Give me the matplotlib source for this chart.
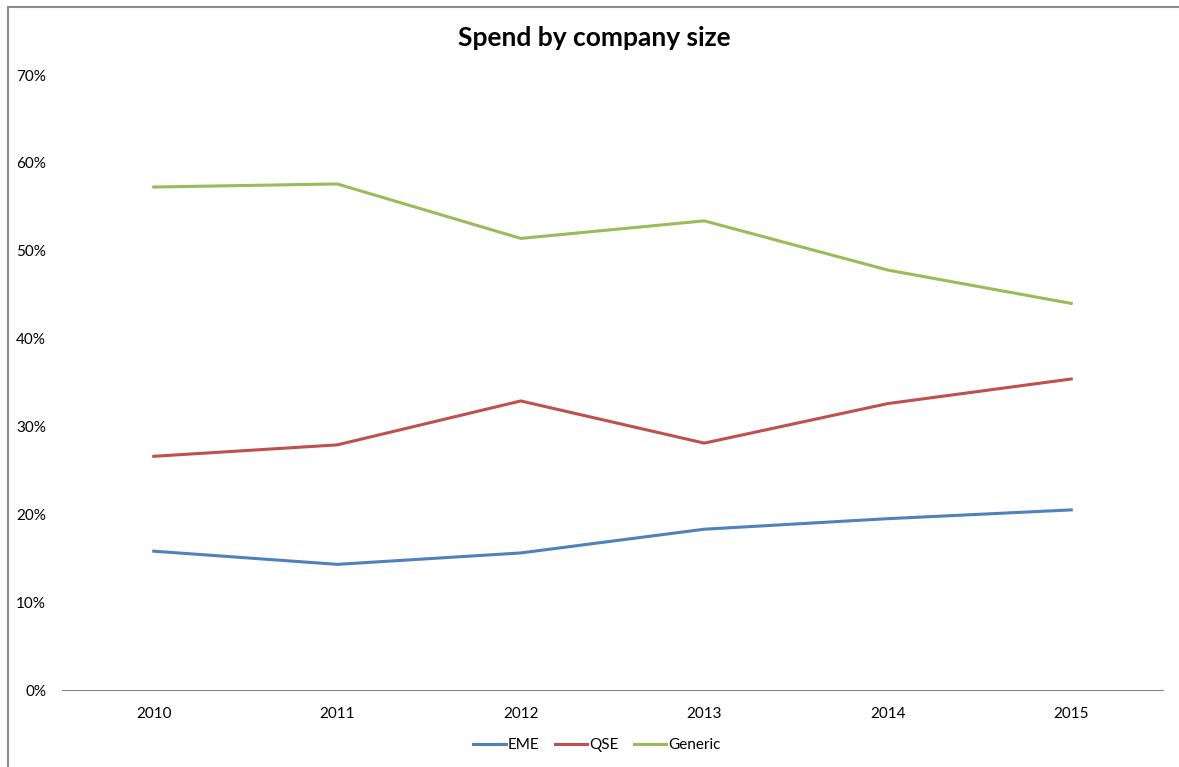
import matplotlib
matplotlib.use("Agg")
import matplotlib.pyplot as plt
from matplotlib.patches import Rectangle
from matplotlib.ticker import PercentFormatter

years = ["2010", "2011", "2012", "2013", "2014", "2015"]
eme = [15.8, 14.3, 15.6, 18.3, 19.5, 20.5]
qse = [26.6, 27.9, 32.9, 28.1, 32.6, 35.4]
generic = [57.25, 57.6, 51.4, 53.4, 47.8, 44.0]

plt.rcParams["font.family"] = ["Lato", "DejaVu Sans"]

fig = plt.figure(figsize=(11.79, 7.67), dpi=100)
W, H = 1179, 767

# chart frame (only top and left edges fall inside the image)
fig.patches.append(Rectangle((8 / W, 0 - 0.05), 1.2, 1 - 7 / H + 0.05,
                             transform=fig.transFigure, fill=False,
                             edgecolor="#8c8c8c", linewidth=1.5))

ax = fig.add_axes([62 / W, 1 - 690 / H, (1163 - 62) / W, (690 - 75) / H])
x = range(len(years))
ax.plot(x, eme, color="#4F81BD", linewidth=2.2, label="EME")
ax.plot(x, qse, color="#C0504D", linewidth=2.2, label="QSE")
ax.plot(x, generic, color="#9BBB59", linewidth=2.2, label="Generic")

ax.set_xlim(-0.5, len(years) - 0.5)
ax.set_ylim(0, 70)
ax.set_yticks(range(0, 71, 10))
ax.yaxis.set_major_formatter(PercentFormatter(decimals=0))
ax.set_xticks(list(x))
ax.set_xticklabels(years)

for side in ["top", "right", "left"]:
    ax.spines[side].set_visible(False)
ax.spines["bottom"].set_color("#868686")
ax.tick_params(axis="both", length=0, labelsize=11, colors="#000000")
ax.tick_params(axis="x", pad=12)
ax.tick_params(axis="y", pad=11.5)

fig.text(594 / W, 1 - 38 / H, "Spend by company size", ha="center", va="center",
         fontsize=19, fontweight="bold")

fig.legend(loc="center", bbox_to_anchor=(597 / W, 1 - 745 / H), ncol=3,
           frameon=False, fontsize=11, handlelength=2.1, handletextpad=0.15,
           columnspacing=1.0)

fig.savefig("out.png", dpi=100, facecolor="white")
